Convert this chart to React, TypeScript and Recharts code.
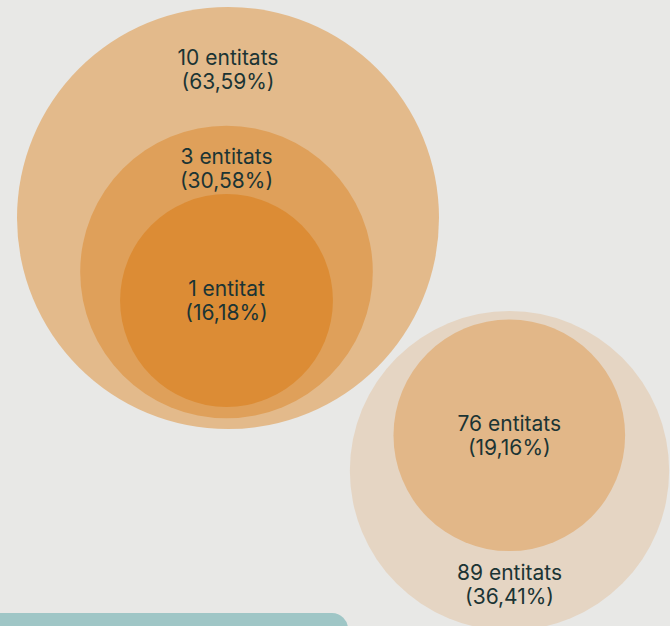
import React from 'react';
import { ScatterChart, Scatter, XAxis, YAxis, ZAxis, Cell } from 'recharts';

// nested groups: left (10 > 3 > 1 entitats) and right (89 > 76 entitats)
const counts = [10, 3, 1, 89, 76];
const shares = [63.59, 30.58, 16.18, 36.41, 19.16];
const centerX = [228, 226.5, 226.5, 509.5, 509.3];
const centerY = [218, 272, 300.5, 470.7, 435.3];

const fills = ['#e3ba8b', '#dfa05a', '#dc8c35', '#e5d5c3', '#e2b788'];
const labelSide = ['top', 'top', 'center', 'bottom', 'center'];

const data = counts.map((c, i) => ({ count: c, pct: shares[i], x: centerX[i], y: centerY[i], side: labelSide[i] }));

const W = 670;
const H = 626;
// area proportional to share: r = 26.46 * sqrt(pct)
const AREA_MAX = Math.PI * 700.1 * 100;

const fmt = (v: number) => v.toFixed(2).replace('.', ',');

const Bubble = (props: any) => {
  const { cx, cy, width, fill, payload } = props;
  const r = width / 2;
  let ly = cy;
  if (payload.side === 'top') ly = cy - r * 0.705;
  if (payload.side === 'bottom') ly = cy + r * 0.71;
  const word = payload.count === 1 ? 'entitat' : 'entitats';
  return (
    <g>
      <circle cx={cx} cy={cy} r={r} fill={fill} />
      <text x={cx} y={ly - 12} textAnchor="middle" dominantBaseline="central" fontSize={21} fill="#1b3434" fontFamily="Inter, sans-serif">
        {payload.count} {word}
      </text>
      <text x={cx} y={ly + 12} textAnchor="middle" dominantBaseline="central" fontSize={21} fill="#1b3434" fontFamily="Inter, sans-serif">
        ({fmt(payload.pct)}%)
      </text>
    </g>
  );
};

export default function App() {
  return (
    <div style={{ position: 'fixed', left: 0, top: 0, width: W, height: H, background: '#e8e8e6', overflow: 'hidden' }}>
      <div style={{ position: 'absolute', left: -20, top: 613, width: 368, height: 40, background: '#9fc6c6', borderRadius: 16 }} />
      <div style={{ position: 'absolute', left: 0, top: 0 }}>
        <ScatterChart width={W} height={H} margin={{ top: 0, right: 0, bottom: 0, left: 0 }}>
          <XAxis type="number" dataKey="x" domain={[0, W]} hide allowDataOverflow />
          <YAxis type="number" dataKey="y" domain={[0, H]} reversed hide width={0} allowDataOverflow />
          <ZAxis type="number" dataKey="pct" domain={[0, 100]} range={[0, AREA_MAX]} />
          <Scatter data={data} shape={<Bubble />} isAnimationActive={false}>
            {data.map((d, i) => (
              <Cell key={i} fill={fills[i]} />
            ))}
          </Scatter>
        </ScatterChart>
      </div>
    </div>
  );
}
